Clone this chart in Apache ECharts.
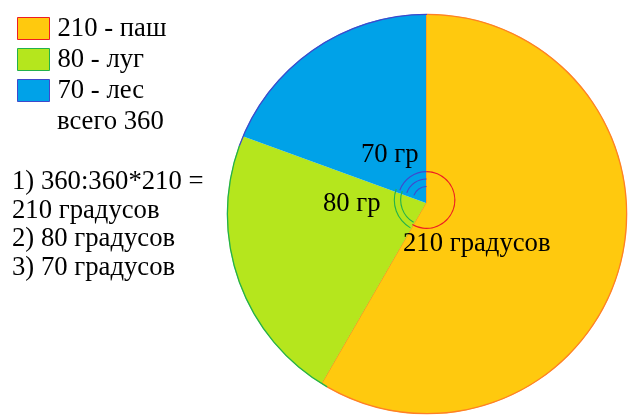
<!DOCTYPE html>
<html>
<head>
<meta charset="utf-8">
<script src="https://cdn.jsdelivr.net/npm/echarts@6/dist/echarts.min.js"></script>
<style>
html,body{margin:0;padding:0;background:#fff;}
#chart{width:638px;height:420px;}
</style>
</head>
<body>
<div id="chart"></div>
<script>
// ---- data ----
const categories = ['паш', 'луг', 'лес'];
const values = [210, 80, 70];
const sliceLabels = ['210 градусов', '80 гр', '70 гр'];
const totalWord = 'всего';
const noteLines = ['1) 360:360*210 =', '210 градусов', '2) 80 градусов', '3) 70 градусов'];

// ---- styles ----
const FONT = 'Liberation Serif';
const FS = 26.7;
const fillColors = ['#FFC90E', '#B5E61D', '#00A2E8'];
const edgeColors = ['#FF7F27', '#22B14C', '#3F48CC'];
const legendBorders = ['#ED1C24', '#22B14C', '#3F48CC'];
const markColors = ['#ED1C24', '#22B14C', '#3F48CC'];

const total = values.reduce((a, b) => a + b, 0);

const VERTEX = [426, 203];
const CIRCLE = [427, 214];
const CIRCLE_R = 200;
const ARC_C = [426.5, 200];

function basePie(extra) {
  return Object.assign({
    type: 'pie',
    startAngle: 90,
    clockwise: true,
    silent: true,
    animation: false,
    label: { show: false },
    labelLine: { show: false },
    emphasis: { disabled: true },
    avoidLabelOverlap: false
  }, extra);
}

// decorative angle marks: rings at given radius showing one slice only
function markRing(sliceIdx, r, key) {
  return basePie({
    z: 7,
    center: ARC_C,
    radius: [r - 0.55, r + 0.55],
    data: values.map((v, i) => ({
      name: key + i,
      value: v,
      itemStyle: { color: i === sliceIdx ? markColors[i] : 'rgba(0,0,0,0)', borderWidth: 0 }
    }))
  });
}

const series = [
  basePie({
    name: 'main',
    z: 2,
    center: VERTEX,
    radius: 214,
    data: categories.map((c, i) => ({
      name: c,
      value: values[i],
      itemStyle: {
        color: fillColors[i],
        borderColor: edgeColors[i],
        borderWidth: i === 0 ? 1 : 0
      }
    }))
  }),
  basePie({
    z: 6,
    center: CIRCLE,
    radius: [CIRCLE_R - 1, CIRCLE_R + 0.3],
    data: values.map((v, i) => ({
      name: 'o' + i, value: v,
      itemStyle: { color: edgeColors[i], borderWidth: 0 }
    }))
  }),
  markRing(0, 28.4, 'r'),
  markRing(1, 32.2, 'g1'),
  markRing(1, 25.8, 'g2'),
  markRing(2, 28.4, 'b1'),
  markRing(2, 21, 'b2'),
  markRing(2, 13.5, 'b3')
];

const labelPos = [[403, 244], [323, 204], [361, 155]];
const graphics = [
  {
    type: 'ring', z: 5, silent: true,
    shape: { cx: CIRCLE[0], cy: CIRCLE[1], r: 232, r0: CIRCLE_R },
    style: { fill: '#fff' }
  },
  {
    type: 'text', z: 10, x: 57, y: 122,
    style: { text: totalWord + ' ' + total, font: FS + 'px "' + FONT + '"', fill: '#000', verticalAlign: 'middle', align: 'left' }
  }
];
sliceLabels.forEach((t, i) => {
  graphics.push({
    type: 'text', z: 10, x: labelPos[i][0], y: labelPos[i][1],
    style: { text: t, font: FS + 'px "' + FONT + '"', fill: '#000', verticalAlign: 'middle', align: 'left' }
  });
});
const noteY = [181.5, 210.5, 239, 267.5];
noteLines.forEach((t, i) => {
  graphics.push({
    type: 'text', z: 10, x: 12, y: noteY[i],
    style: { text: t, font: FS + 'px "' + FONT + '"', fill: '#000', verticalAlign: 'middle', align: 'left' }
  });
});

const chart = echarts.init(document.getElementById('chart'), null, { renderer: 'canvas' });
chart.setOption({
  backgroundColor: '#fff',
  animation: false,
  legend: {
    orient: 'vertical',
    left: 17,
    top: 15,
    padding: 0,
    itemWidth: 32,
    itemHeight: 22,
    itemGap: 4,
    selectedMode: false,
    icon: 'rect',
    formatter: name => values[categories.indexOf(name)] + ' - ' + name,
    textStyle: { fontFamily: FONT, fontSize: FS, color: '#000', padding: [0, 0, 0, 3] },
    data: categories.map((c, i) => ({
      name: c,
      icon: 'rect',
      itemStyle: { color: fillColors[i], borderColor: legendBorders[i], borderWidth: 1 }
    }))
  },
  series: series,
  graphic: graphics
});
</script>
</body>
</html>
